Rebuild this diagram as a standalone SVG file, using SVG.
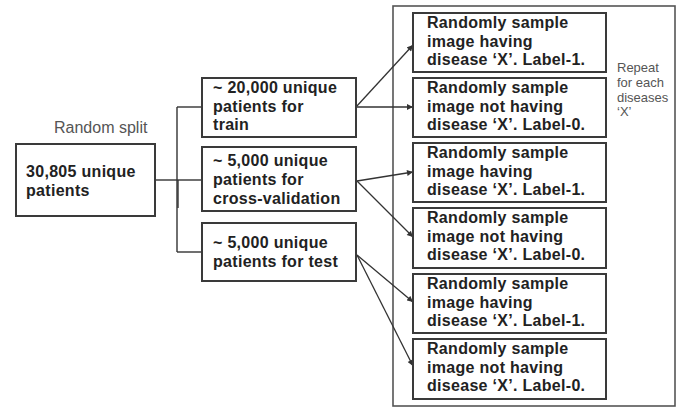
<svg xmlns="http://www.w3.org/2000/svg" width="681" height="408" viewBox="0 0 681 408">
  <style>
    .box { fill: #ffffff; stroke: #3a3a3a; stroke-width: 2; }
    .frame { fill: none; stroke: #555555; stroke-width: 1.6; }
    .lbl { font-family: "Liberation Sans", Arial, Helvetica, sans-serif; font-size: 16px; font-weight: bold; fill: #222222; letter-spacing: 0.3px; }
    .note { font-family: "Liberation Sans", Arial, Helvetica, sans-serif; fill: #555555; }
    .wire { fill: none; stroke: #333333; stroke-width: 1.4; }
    .arrow { fill: none; stroke: #333333; stroke-width: 1.3; marker-end: url(#head); }
  </style>
  <defs>
    <marker id="head" viewBox="0 0 10 10" refX="10" refY="5" markerWidth="7" markerHeight="6" markerUnits="userSpaceOnUse" orient="auto">
      <path d="M0,0 L10,5 L0,10 Z" fill="#333333"/>
    </marker>
  </defs>

  <rect width="681" height="408" fill="#ffffff"/>

  <!-- outer frame around the sampling boxes -->
  <rect class="frame" x="393" y="6" width="282" height="400"/>

  <!-- connectors -->
  <g id="connectors">
    <line class="wire" x1="155" y1="180" x2="177" y2="180"/>
    <line class="wire" x1="177" y1="107" x2="177" y2="252"/>
    <line class="wire" x1="178" y1="180" x2="178" y2="208" stroke-width="2.6"/>
    <line class="wire" x1="177" y1="107" x2="202" y2="107"/>
    <line class="wire" x1="177" y1="180" x2="202" y2="180"/>
    <line class="wire" x1="177" y1="252" x2="202" y2="252"/>
    <line class="arrow" x1="356" y1="107" x2="413" y2="45"/>
    <line class="arrow" x1="356" y1="107" x2="413" y2="107"/>
    <line class="arrow" x1="357" y1="181" x2="413" y2="172"/>
    <line class="arrow" x1="357" y1="181" x2="413" y2="237"/>
    <line class="arrow" x1="357" y1="255" x2="413" y2="302"/>
    <line class="arrow" x1="357" y1="255" x2="413" y2="366"/>
  </g>

  <text class="note" x="54" y="133" font-size="16">Random split</text>

  <g id="all-patients">
    <rect class="box" x="16" y="144" width="139" height="72"/>
    <text class="lbl" x="26" y="177">30,805 unique</text>
    <text class="lbl" x="26" y="196">patients</text>
  </g>

  <g id="train">
    <rect class="box" x="202" y="78" width="154" height="59"/>
    <text class="lbl" x="213" y="93">~ 20,000 unique</text>
    <text class="lbl" x="213" y="112">patients for</text>
    <text class="lbl" x="213" y="130">train</text>
  </g>

  <g id="validation">
    <rect class="box" x="202" y="147" width="154" height="64"/>
    <text class="lbl" x="213" y="166">~ 5,000 unique</text>
    <text class="lbl" x="213" y="185">patients for</text>
    <text class="lbl" x="213" y="204">cross-validation</text>
  </g>

  <g id="test">
    <rect class="box" x="202" y="223" width="154" height="58"/>
    <text class="lbl" x="213" y="248">~ 5,000 unique</text>
    <text class="lbl" x="213" y="267">patients for test</text>
  </g>

  <g id="train-pos">
    <rect class="box" x="413" y="13" width="193" height="59"/>
    <text class="lbl" x="427" y="28">Randomly sample</text>
    <text class="lbl" x="427" y="46.5">image having</text>
    <text class="lbl" x="427" y="65">disease ‘X’. Label-1.</text>
  </g>
  <g id="train-neg">
    <rect class="box" x="413" y="78" width="193" height="59"/>
    <text class="lbl" x="427" y="93">Randomly sample</text>
    <text class="lbl" x="427" y="111.5">image not having</text>
    <text class="lbl" x="427" y="130">disease ‘X’. Label-0.</text>
  </g>
  <g id="val-pos">
    <rect class="box" x="413" y="143" width="193" height="59"/>
    <text class="lbl" x="427" y="158">Randomly sample</text>
    <text class="lbl" x="427" y="176.5">image having</text>
    <text class="lbl" x="427" y="195">disease ‘X’. Label-1.</text>
  </g>
  <g id="val-neg">
    <rect class="box" x="413" y="208" width="193" height="60"/>
    <text class="lbl" x="427" y="223">Randomly sample</text>
    <text class="lbl" x="427" y="241.5">image not having</text>
    <text class="lbl" x="427" y="260">disease ‘X’. Label-0.</text>
  </g>
  <g id="test-pos">
    <rect class="box" x="413" y="274" width="193" height="59"/>
    <text class="lbl" x="427" y="289">Randomly sample</text>
    <text class="lbl" x="427" y="307.5">image having</text>
    <text class="lbl" x="427" y="326">disease ‘X’. Label-1.</text>
  </g>
  <g id="test-neg">
    <rect class="box" x="413" y="339" width="193" height="60"/>
    <text class="lbl" x="427" y="354">Randomly sample</text>
    <text class="lbl" x="427" y="372.5">image not having</text>
    <text class="lbl" x="427" y="391">disease ‘X’. Label-0.</text>
  </g>

  <g id="repeat-note" class="note" font-size="13">
    <text x="617" y="72">Repeat</text>
    <text x="617" y="87">for each</text>
    <text x="617" y="102">diseases</text>
    <text x="617" y="116">‘X’</text>
  </g>
</svg>
